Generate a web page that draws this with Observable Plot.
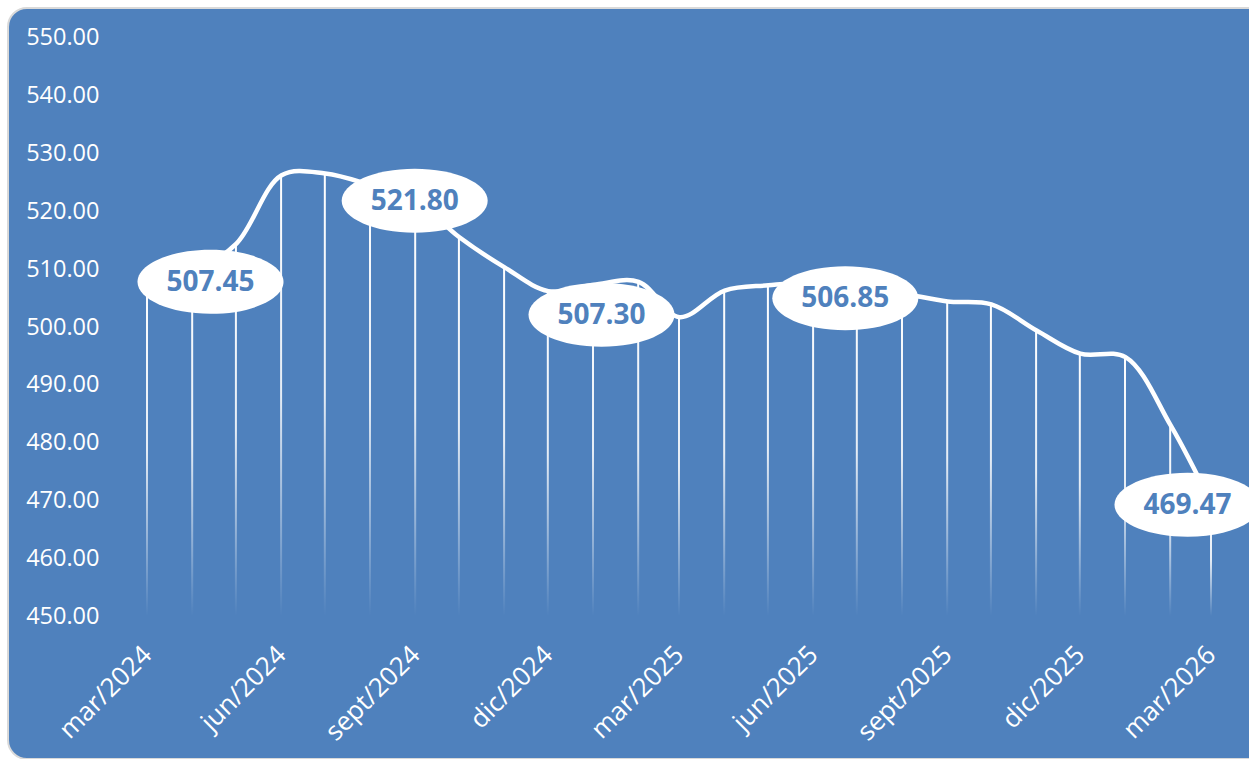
<!DOCTYPE html>
<html>
<head>
<meta charset="utf-8">
<script src="https://cdn.jsdelivr.net/npm/d3@7"></script>
<script src="https://cdn.jsdelivr.net/npm/@observablehq/plot@0.6"></script>
<style>
  html, body { margin: 0; padding: 0; background: #ffffff; overflow: hidden; }
  #wrap { position: relative; width: 1249px; height: 759px; overflow: hidden; }
  #bg { position: absolute; left: 7px; top: 7px; width: 1260px; height: 749px;
        background: #4F81BD; border: 2px solid #d9d9d9; border-radius: 20px; }
  #chart { position: absolute; left: 0; top: 0; }
</style>
</head>
<body>
<div id="wrap"><div id="bg"></div><div id="chart"></div></div>
<script>
// ---- data ----
const months = ["2024-03","2024-04","2024-05","2024-06","2024-07","2024-08","2024-09","2024-10","2024-11","2024-12",
                "2025-01","2025-02","2025-03","2025-04","2025-05","2025-06","2025-07","2025-08","2025-09","2025-10",
                "2025-11","2025-12","2026-01","2026-02","2026-03"];
const values = [507.45, 509.5, 514.4, 526.2, 526.5, 524.5, 521.80, 515.5, 510.3, 506.2,
                507.30, 507.8, 501.7, 506.3, 507.2, 507.7, 506.85, 505.8, 504.4, 503.9,
                499.4, 495.4, 494.8, 483.0, 469.47];
const labelMonths = ["2024-03", "2024-09", "2025-01", "2025-07", "2026-03"];
const labelTexts = ["507.45", "521.80", "507.30", "506.85", "469.47"];
const xTickMonths = ["2024-03","2024-06","2024-09","2024-12","2025-03","2025-06","2025-09","2025-12","2026-03"];
const xTickLabels = ["mar/2024","jun/2024","sept/2024","dic/2024","mar/2025","jun/2025","sept/2025","dic/2025","mar/2026"];
const yTicks = [450, 460, 470, 480, 490, 500, 510, 520, 530, 540, 550];

// ---- build ----
const parse = s => new Date(s + "-01T00:00:00Z");
const data = months.map((m, i) => ({date: parse(m), value: values[i]}));
const labelData = labelMonths.map((m, i) => ({date: parse(m), value: values[months.indexOf(m)], text: labelTexts[i]}));
const tickDates = xTickMonths.map(parse);
const tickLabelMap = new Map(tickDates.map((d, i) => [+d, xTickLabels[i]]));
// label offsets (px) as placed in the original chart
const labelDx = [63, -1, 8, -12, -24];
const labelDy = [-2, 0, 30, 11, 1];

const BLUE = "#4F81BD";
const ellipse = {
  draw(ctx) {
    const rx = 73, ry = 32, k = 0.5523;
    ctx.moveTo(rx, 0);
    ctx.bezierCurveTo(rx, k * ry, k * rx, ry, 0, ry);
    ctx.bezierCurveTo(-k * rx, ry, -rx, k * ry, -rx, 0);
    ctx.bezierCurveTo(-rx, -k * ry, -k * rx, -ry, 0, -ry);
    ctx.bezierCurveTo(k * rx, -ry, rx, -k * ry, rx, 0);
    ctx.closePath();
  }
};

const defs = () => {
  const ns = "http://www.w3.org/2000/svg";
  const d = document.createElementNS(ns, "defs");
  d.innerHTML = `<linearGradient id="dropGrad" x1="0" y1="0" x2="0" y2="1">
      <stop offset="0" stop-color="white" stop-opacity="1"/>
      <stop offset="0.5" stop-color="white" stop-opacity="0.85"/>
      <stop offset="1" stop-color="white" stop-opacity="0"/>
    </linearGradient>`;
  return d;
};

const labelMarks = labelData.map((p, i) => [
  Plot.dot([p], {x: "date", y: "value", symbol: ellipse, r: 10, fill: "white", stroke: "none", dx: labelDx[i], dy: labelDy[i]}),
  Plot.text([p], {x: "date", y: "value", text: "text", fill: BLUE, fontSize: 28, fontWeight: "bold",
                  fontFamily: "'Open Sans', sans-serif", dx: labelDx[i], dy: labelDy[i]})
]);

const chart = Plot.plot({
  width: 1249,
  height: 759,
  marginLeft: 147,
  marginRight: 38,
  marginTop: 37,
  marginBottom: 143,
  style: {background: "transparent", color: "white", fontFamily: "'Open Sans', sans-serif", fontSize: "23px", overflow: "visible"},
  x: {type: "utc", domain: [parse(months[0]), parse(months[months.length - 1])]},
  y: {domain: [450, 550]},
  marks: [
    defs,
    Plot.rect(data, {x1: "date", x2: "date", y1: () => 450, y2: "value", insetLeft: -1, insetRight: -1, fill: "url(#dropGrad)"}),
    Plot.line(data, {x: "date", y: "value", curve: "catmull-rom", stroke: "white", strokeWidth: 4.5}),
    labelMarks,
    Plot.axisY({ticks: yTicks, tickFormat: d => d.toFixed(2), tickSize: 0, tickPadding: 48, fontSize: 23.5, label: null}),
    Plot.axisX({ticks: tickDates, tickFormat: d => tickLabelMap.get(+d), tickRotate: -45, tickSize: 0, tickPadding: 34, fontSize: 26, label: null})
  ]
});
document.getElementById("chart").appendChild(chart);
</script>
</body>
</html>
